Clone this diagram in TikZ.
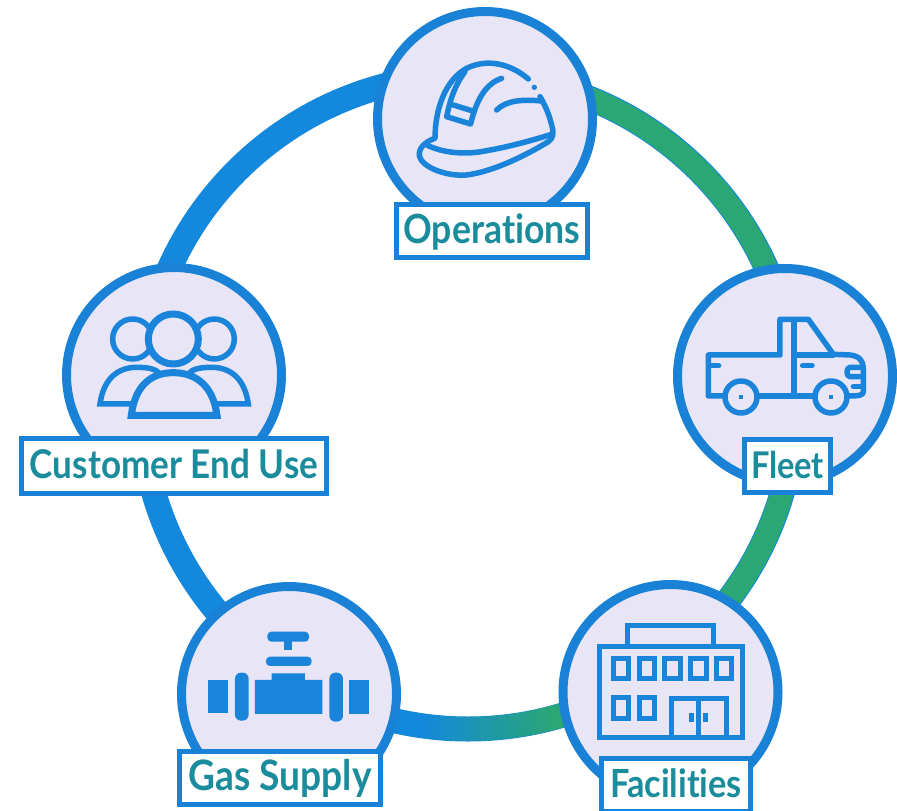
\documentclass[tikz,border=0pt]{standalone}
\usepackage{graphicx}
\usepackage{fontspec}
\setmainfont{Lato}[UprightFont=* Bold,Ligatures=NoCommon]
\definecolor{ringblue}{HTML}{1388DC}
\definecolor{ringgreen}{HTML}{2AA774}
\definecolor{edgeblue}{HTML}{1A82D6}
\definecolor{lav}{HTML}{E8E5F7}
\definecolor{labelteal}{HTML}{1B8C9C}
\definecolor{iconblue}{HTML}{1A84DA}
\tikzset{
  disc/.style={circle,draw=edgeblue,fill=lav,line width=9pt,minimum size=215pt,inner sep=0pt,outer sep=0pt},
  tag/.style={draw=edgeblue,fill=white,line width=5pt,inner sep=0pt,outer sep=0pt,text=labelteal,text height=27pt,text depth=3pt,align=center},
  ico/.style={draw=iconblue,line width=#1,line join=round,line cap=round},
  ico/.default=5.5pt,
  icofill/.style={fill=iconblue,draw=none},
}
\newcommand{\lab}[2]{\scalebox{1}[1.13]{\resizebox{#1pt}{!}{#2}}}
\begin{document}
\begin{tikzpicture}[x=1pt,y=-1pt]
\useasboundingbox (0,0) rectangle (897,811);
\coordinate (ringc) at (468,402);
% ring
\draw[ringblue,line width=25pt] (ringc) circle[radius=327];
\draw[ringgreen,line width=23pt] plot[domain=-90:75,samples=90] ({468+327*cos(\x)},{402+327*sin(\x)});
\foreach \a in {70,71,...,104}{
  \pgfmathsetmacro{\q}{min(100,max(0,(\a-74)*100/24))}
  \colorlet{segc}{ringblue!\q!ringgreen}
  \draw[segc,line width=24pt] plot[domain=\a:\a+1.3,samples=3] ({468+327*cos(\x)},{402+327*sin(\x)});
}
% discs
\node[disc] (ops) at (485,119) {};
\node[disc] (fleet) at (785,376) {};
\node[disc] (fac) at (670.5,692) {};
\node[disc] (gas) at (289,694) {};
\node[disc] (cust) at (174,375) {};
% helmet
\begin{scope}[shift={(370,0)},x=0.3333pt,y=-0.3333pt]
\draw[ico] (475,237) .. controls (420,190) and (350,175) .. (290,205) .. controls (225,240) and (195,330) .. (195,415)
  .. controls (165,425) and (145,445) .. (148,468) .. controls (155,500) and (225,530) .. (290,525) .. controls (370,515) and (470,465) .. (535,425)
  .. controls (550,415) and (552,400) .. (545,375) .. controls (538,345) and (525,315) .. (510,290);
\draw[ico] (170,435) .. controls (220,460) and (290,465) .. (350,452) .. controls (420,440) and (490,420) .. (545,403);
\draw[ico] (380,330) .. controls (410,300) and (460,298) .. (515,303);
\draw[ico] (395,235) .. controls (350,250) and (320,295) .. (302,372) -- (230,350) .. controls (240,300) and (255,255) .. (285,215);
\draw[ico] (250,315) -- (305,332);
\fill[iconblue] (493,262) circle[radius=8];
\end{scope}
% truck
\begin{scope}[shift={(660,260)},x=0.3333pt,y=-0.3333pt]
\draw[ico] (190,408) -- (145,408) -- (145,285) -- (360,285) -- (360,178) -- (445,178) -- (520,283) -- (570,285)
  .. controls (600,288) and (610,305) .. (610,325) -- (610,395) .. controls (610,405) and (600,408) .. (565,408);
\draw[ico] (295,408) -- (465,408);
\draw[ico] (402,182) -- (402,405);
\draw[ico] (410,285) -- (520,285);
\draw[ico] (243,411) circle[radius=48];
\draw[ico] (513,411) circle[radius=48];
\fill[iconblue] (236,404) rectangle (250,418);
\fill[iconblue] (506,404) rectangle (520,418);
\draw[ico] (150,317) -- (176,317);
\draw[ico] (428,317) -- (456,317);
\draw[ico] (606,322) -- (570,322) .. controls (558,322) and (558,350) .. (570,350) -- (606,350);
\draw[ico] (580,380) -- (606,380);
\end{scope}
% building
\begin{scope}[shift={(550,580)},x=0.3333pt,y=-0.3333pt]
\tikzset{bl/.style={draw=iconblue,line width=5pt,line join=miter}}
\draw[bl] (232,195) -- (232,137) -- (492,137) -- (492,195);
\draw[bl] (147,198) rectangle (578,472);
\foreach \xa in {190,268,345,423,500}{\draw[bl] (\xa,235) rectangle (\xa+46,297);}
\foreach \xa in {190,268}{\draw[bl] (\xa,352) rectangle (\xa+46,415);}
\draw[bl] (364,472) -- (364,355) -- (530,355) -- (530,472);
\draw[bl] (445,355) -- (445,472);
\draw[bl] (425,400) -- (425,426);
\draw[bl] (467,400) -- (467,426);
\end{scope}
% valve
\begin{scope}[shift={(170,575)},x=0.3333pt,y=-0.3333pt]
\fill[iconblue] (113,315) rectangle (173,415);
\fill[iconblue,rounded corners=6pt] (195,293) rectangle (236,437);
\fill[iconblue] (255,315) -- (305,315) -- (305,295) -- (405,295) -- (405,315) -- (457,315) -- (457,417) -- (255,417) -- cycle;
\fill[iconblue,rounded corners=6pt] (478,293) rectangle (519,440);
\fill[iconblue] (538,315) rectangle (598,417);
\fill[iconblue,rounded corners=4pt] (288,245) rectangle (425,273);
\fill[iconblue] (342,195) rectangle (367,225);
\fill[iconblue,rounded corners=4pt] (292,170) rectangle (417,200);
\end{scope}
% people
\begin{scope}[shift={(10,260)},x=0.3333pt,y=-0.3333pt]
\draw[ico=5.5pt,fill=lav] (368,237) circle[radius=60];
\draw[ico=5.5pt,fill=lav] (613,237) circle[radius=60];
\draw[ico=5.5pt,fill=lav,line join=miter] (270,432) .. controls (280,360) and (320,322) .. (380,322) .. controls (450,322) and (470,340) .. (470,432) -- cycle;
\draw[ico=5.5pt,fill=lav,line join=miter] (715,432) .. controls (705,360) and (665,322) .. (605,322) .. controls (535,322) and (515,340) .. (515,432) -- cycle;
\draw[ico=7pt,fill=lav] (490,237) circle[radius=75];
\draw[ico=7pt,fill=lav,line join=miter] (364,466) .. controls (375,380) and (420,338) .. (490,338) .. controls (560,338) and (610,380) .. (621,466) -- cycle;
\end{scope}
% labels
\node[tag,minimum width=191pt,minimum height=53pt] (opsl) at (492,231) {\lab{177}{Operations}};
\node[tag,minimum width=86pt,minimum height=53pt] (fleetl) at (787.5,466) {\lab{73}{Fleet}};
\node[tag,minimum width=149pt,minimum height=53pt] (facl) at (676,785) {\lab{132}{Facilities}};
\node[tag,minimum width=201pt,minimum height=53pt] (gasl) at (280,778) {\lab{183}{Gas Supply}};
\node[tag,minimum width=305pt,minimum height=55pt] (custl) at (174,466) {\lab{288}{Customer End Use}};
\end{tikzpicture}
\end{document}
